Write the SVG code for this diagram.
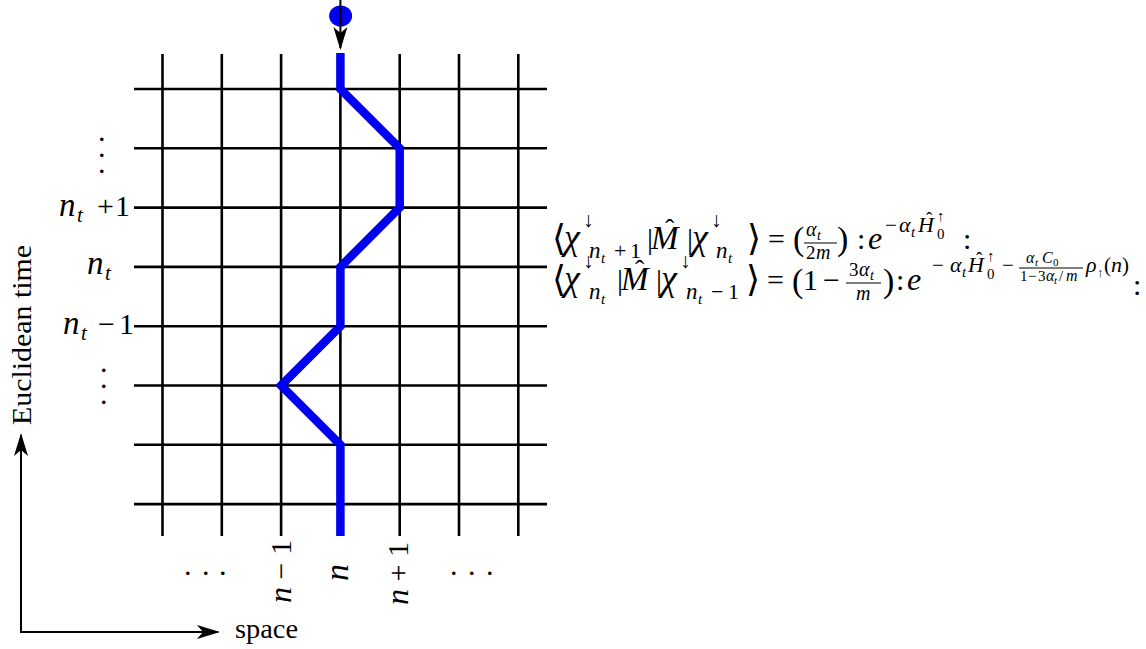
<svg xmlns="http://www.w3.org/2000/svg" width="1146" height="649" viewBox="0 0 1146 649">
<style>
text{font-family:"Liberation Serif","DejaVu Serif",serif;fill:#000}
.i{font-style:italic}
.grid line{stroke:#000;stroke-width:2.6}
.ax{stroke:#000;stroke-width:2;fill:none}
.fb{stroke:#000;stroke-width:1.1}
</style>
<defs>
<marker id="ah" viewBox="-24 -9 28 18" refX="0" refY="0" markerWidth="28" markerHeight="18" markerUnits="userSpaceOnUse" orient="auto">
<path d="M2,0 L-21,-7 L-15,0 L-21,7 Z" fill="#000"/>
</marker>
</defs>
<rect width="1146" height="649" fill="#fff"/>
<g id="grid" class="grid">
<line x1="162.5" y1="54" x2="162.5" y2="536"/>
<line x1="221.8" y1="54" x2="221.8" y2="536"/>
<line x1="281.1" y1="54" x2="281.1" y2="536"/>
<line x1="340.4" y1="54" x2="340.4" y2="536"/>
<line x1="399.7" y1="54" x2="399.7" y2="536"/>
<line x1="459" y1="54" x2="459" y2="536"/>
<line x1="518.3" y1="54" x2="518.3" y2="536"/>
<line x1="134" y1="89" x2="547" y2="89"/>
<line x1="134" y1="148.3" x2="547" y2="148.3"/>
<line x1="134" y1="207.6" x2="547" y2="207.6"/>
<line x1="134" y1="266.9" x2="547" y2="266.9"/>
<line x1="134" y1="326.2" x2="547" y2="326.2"/>
<line x1="134" y1="385.5" x2="547" y2="385.5"/>
<line x1="134" y1="444.8" x2="547" y2="444.8"/>
<line x1="134" y1="504.1" x2="547" y2="504.1"/>
</g>
<g id="path">
<path d="M340.4,53 L340.4,89 L399.7,148.3 L399.7,207.6 L340.4,266.9 L340.4,326.2 L281.1,385.5 L340.4,444.8 L340.4,536" fill="none" stroke="#0000f0" stroke-width="8.5"/>
</g>
<g id="particle">
<ellipse cx="340.6" cy="16" rx="11.5" ry="10.5" fill="#0000f0"/>
</g>
<g id="connectors">
<line class="ax" x1="340.4" y1="0" x2="340.4" y2="48" marker-end="url(#ah)"/>
<line class="ax" x1="21" y1="633" x2="21" y2="435" marker-end="url(#ah)"/>
<line class="ax" x1="20" y1="632" x2="218" y2="632" marker-end="url(#ah)"/>
</g>
<g id="axis-labels">
<text x="235" y="638" font-size="27" textLength="63" lengthAdjust="spacingAndGlyphs">space</text>
<text transform="translate(31,425) rotate(-90)" font-size="27" textLength="180" lengthAdjust="spacingAndGlyphs">Euclidean time</text>
</g>
<g id="time-labels">
<text font-size="30"><tspan class="i" x="59" y="216" font-size="33">n</tspan><tspan class="i" x="77" y="222" font-size="21">t</tspan><tspan x="97" y="216">+</tspan><tspan x="115" y="216">1</tspan></text>
<text font-size="30"><tspan class="i" x="87" y="274" font-size="33">n</tspan><tspan class="i" x="105" y="280" font-size="21">t</tspan></text>
<text font-size="30"><tspan class="i" x="63" y="334" font-size="33">n</tspan><tspan class="i" x="81" y="340" font-size="21">t</tspan><tspan x="98" y="334">−</tspan><tspan x="119" y="334">1</tspan></text>
<text font-size="30"><tspan x="98" y="141">.</tspan><tspan x="98" y="157">.</tspan><tspan x="98" y="173">.</tspan></text>
<text font-size="30"><tspan x="100" y="372">.</tspan><tspan x="100" y="388">.</tspan><tspan x="100" y="404">.</tspan></text>
</g>
<g id="space-labels">
<text font-size="30"><tspan x="184" y="575">.</tspan><tspan x="202" y="575">.</tspan><tspan x="219" y="575">.</tspan></text>
<text font-size="30"><tspan x="450" y="575">.</tspan><tspan x="468" y="575">.</tspan><tspan x="486" y="575">.</tspan></text>
<text transform="translate(291,603) rotate(-90)" font-size="30"><tspan class="i" font-size="32">n</tspan> − 1</text>
<text transform="translate(348,581) rotate(-90)" font-size="34" class="i">n</text>
<text transform="translate(408,605) rotate(-90)" font-size="30"><tspan class="i" font-size="32">n</tspan> + 1</text>
</g>
<g id="equation-1">
<text font-size="30"><tspan x="552" y="250" font-size="36">⟨</tspan><tspan class="i" x="564" y="249" font-size="36">χ</tspan><tspan x="583" y="227" font-size="21">↓</tspan><tspan class="i" x="589" y="258" font-size="23">n</tspan><tspan class="i" x="601" y="263" font-size="15">t</tspan><tspan x="614" y="258" font-size="22">+</tspan><tspan x="630" y="258" font-size="22">1</tspan><tspan x="647" y="249">|</tspan><tspan class="i" x="651" y="249" font-size="33">M</tspan><tspan x="665" y="238" font-size="28">ˆ</tspan><tspan x="687" y="249">|</tspan><tspan class="i" x="692" y="249" font-size="36">χ</tspan><tspan x="711" y="227" font-size="21">↓</tspan><tspan class="i" x="716" y="258" font-size="23">n</tspan><tspan class="i" x="728" y="263" font-size="15">t</tspan><tspan x="747" y="250" font-size="36">⟩</tspan><tspan x="768" y="249">=</tspan><tspan x="793" y="250" font-size="34">(</tspan><tspan class="i" x="806" y="236" font-size="20">α</tspan><tspan class="i" x="817" y="240" font-size="14">t</tspan><tspan x="806" y="259" font-size="19">2</tspan><tspan class="i" x="816" y="259" font-size="20">m</tspan><tspan x="837" y="250" font-size="34">)</tspan><tspan x="857" y="249">:</tspan><tspan class="i" x="868" y="249" font-size="32">e</tspan><tspan x="885" y="232" font-size="21">−</tspan><tspan class="i" x="899" y="232" font-size="22">α</tspan><tspan class="i" x="911" y="237" font-size="15">t</tspan><tspan class="i" x="918" y="232" font-size="22">H</tspan><tspan x="926" y="225" font-size="19">ˆ</tspan><tspan x="937" y="221" font-size="15">↑</tspan><tspan x="937" y="239" font-size="15">0</tspan><tspan x="963" y="249">:</tspan></text>
<line class="fb" x1="804" y1="243" x2="837" y2="243"/>
</g>
<g id="equation-2">
<text font-size="30"><tspan x="552" y="291" font-size="36">⟨</tspan><tspan class="i" x="564" y="290" font-size="36">χ</tspan><tspan x="583" y="268" font-size="21">↓</tspan><tspan class="i" x="589" y="299" font-size="23">n</tspan><tspan class="i" x="601" y="304" font-size="15">t</tspan><tspan x="617" y="290">|</tspan><tspan class="i" x="621" y="290" font-size="33">M</tspan><tspan x="635" y="279" font-size="28">ˆ</tspan><tspan x="656" y="290">|</tspan><tspan class="i" x="661" y="290" font-size="36">χ</tspan><tspan x="680" y="268" font-size="21">↓</tspan><tspan class="i" x="686" y="299" font-size="23">n</tspan><tspan class="i" x="698" y="304" font-size="15">t</tspan><tspan x="711" y="299" font-size="22">−</tspan><tspan x="728" y="299" font-size="22">1</tspan><tspan x="746" y="291" font-size="36">⟩</tspan><tspan x="767" y="290">=</tspan><tspan x="792" y="292" font-size="34">(</tspan><tspan x="803" y="290">1</tspan><tspan x="823" y="290">−</tspan><tspan x="849" y="276" font-size="19">3</tspan><tspan class="i" x="859" y="276" font-size="20">α</tspan><tspan class="i" x="870" y="280" font-size="14">t</tspan><tspan class="i" x="856" y="300" font-size="20">m</tspan><tspan x="883" y="292" font-size="34">)</tspan><tspan x="896" y="290">:</tspan><tspan class="i" x="907" y="290" font-size="32">e</tspan><tspan x="932" y="272" font-size="21">−</tspan><tspan class="i" x="950" y="272" font-size="22">α</tspan><tspan class="i" x="962" y="277" font-size="15">t</tspan><tspan class="i" x="968" y="272" font-size="22">H</tspan><tspan x="976" y="265" font-size="19">ˆ</tspan><tspan x="987" y="261" font-size="15">↑</tspan><tspan x="987" y="279" font-size="15">0</tspan><tspan x="1002" y="272" font-size="21">−</tspan><tspan class="i" x="1026" y="263" font-size="16">α</tspan><tspan class="i" x="1035" y="266" font-size="11">t</tspan><tspan class="i" x="1042" y="263" font-size="16">C</tspan><tspan x="1053" y="266" font-size="11">0</tspan><tspan x="1020" y="281" font-size="15">1</tspan><tspan x="1028" y="281" font-size="15">−</tspan><tspan x="1038" y="281" font-size="15">3</tspan><tspan class="i" x="1046" y="281" font-size="16">α</tspan><tspan class="i" x="1054" y="284" font-size="11">t</tspan><tspan x="1059" y="281" font-size="15">/</tspan><tspan class="i" x="1066" y="281" font-size="16">m</tspan><tspan class="i" x="1086" y="272" font-size="22">ρ</tspan><tspan x="1097" y="277" font-size="13">↑</tspan><tspan x="1104" y="272" font-size="21">(</tspan><tspan class="i" x="1111" y="272" font-size="22">n</tspan><tspan x="1122" y="272" font-size="21">)</tspan><tspan x="1133" y="295">:</tspan></text>
<line class="fb" x1="846" y1="283" x2="881" y2="283"/>
<line class="fb" x1="1019" y1="268" x2="1083" y2="268"/>
</g>
</svg>
